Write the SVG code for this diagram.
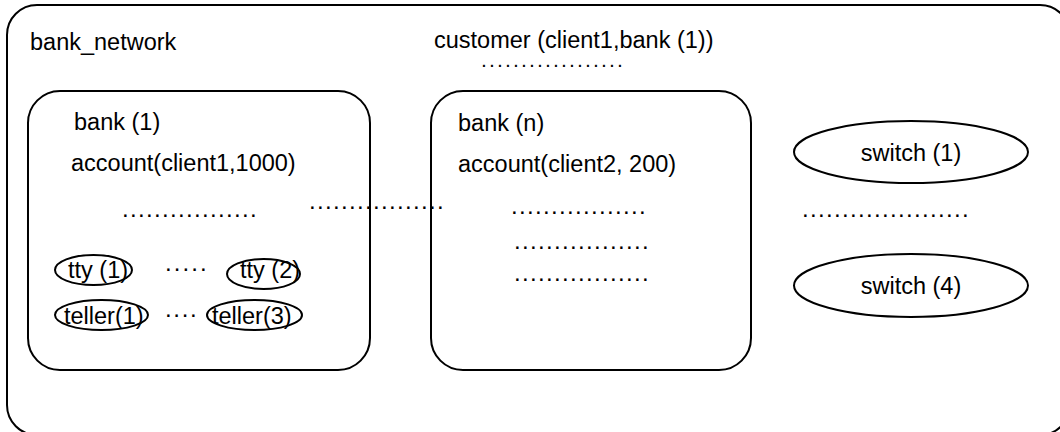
<svg xmlns="http://www.w3.org/2000/svg" width="1060" height="432" viewBox="0 0 1060 432">
<style>
.box{fill:none;stroke:#000;stroke-width:2}
.ell{fill:none;stroke:#000;stroke-width:2}
.t{font-family:"Liberation Sans",Arial,sans-serif;font-size:23.5px;fill:#000}
.c{text-anchor:middle}
.d{font-family:"Liberation Sans",Arial,sans-serif;font-size:24px;fill:#000;letter-spacing:1.33px}
.ds{font-family:"Liberation Sans",Arial,sans-serif;font-size:14px;font-weight:bold;fill:#000;letter-spacing:4.11px}
</style>
<rect width="1060" height="432" fill="#fff"/>
<g id="bank_network">
<rect class="box" x="7" y="5" width="1063" height="430" rx="30" ry="30"/>
<text class="t" x="30" y="50">bank_network</text>
<text class="t" x="434" y="48">customer (client1,bank (1))</text>
<text class="ds" x="482" y="67">..................</text>
<text class="d" x="309" y="209">.................</text>
<text class="d" x="802" y="217">.....................</text>
</g>
<g id="bank1">
<rect class="box" x="28" y="91" width="342" height="279" rx="32" ry="32"/>
<text class="t" x="74" y="130">bank (1)</text>
<text class="t" x="71" y="171">account(client1,1000)</text>
<text class="d" x="122" y="217">.................</text>
<text class="d" x="165" y="271" style="letter-spacing:2.1px">.....</text>
<text class="d" x="165" y="317" style="letter-spacing:1.7px">....</text>
</g>
<g id="tty1">
<ellipse class="ell" cx="93.5" cy="270" rx="38.5" ry="15"/>
<text class="t" x="68" y="278">tty (1)</text>
</g>
<g id="tty2">
<ellipse class="ell" cx="263.5" cy="274" rx="36.5" ry="15"/>
<text class="t" x="240" y="278">tty (2)</text>
</g>
<g id="teller1">
<ellipse class="ell" cx="101.5" cy="315" rx="46.5" ry="15"/>
<text class="t" x="64" y="324">teller(1)</text>
</g>
<g id="teller3">
<ellipse class="ell" cx="254.5" cy="315" rx="47.5" ry="15"/>
<text class="t" x="212" y="324">teller(3)</text>
</g>
<g id="bankn">
<rect class="box" x="431" y="91" width="320" height="279" rx="32" ry="32"/>
<text class="t" x="458" y="131">bank (n)</text>
<text class="t" x="458" y="172">account(client2, 200)</text>
<text class="d" x="511" y="214">.................</text>
<text class="d" x="514" y="249">.................</text>
<text class="d" x="514" y="281">.................</text>
</g>
<g id="switch1">
<ellipse class="ell" cx="911" cy="152" rx="117" ry="31"/>
<text class="t c" x="911" y="161">switch (1)</text>
</g>
<g id="switch4">
<ellipse class="ell" cx="911" cy="285.5" rx="117" ry="31.5"/>
<text class="t c" x="911" y="294">switch (4)</text>
</g>
<g id="connectors"></g>
</svg>
